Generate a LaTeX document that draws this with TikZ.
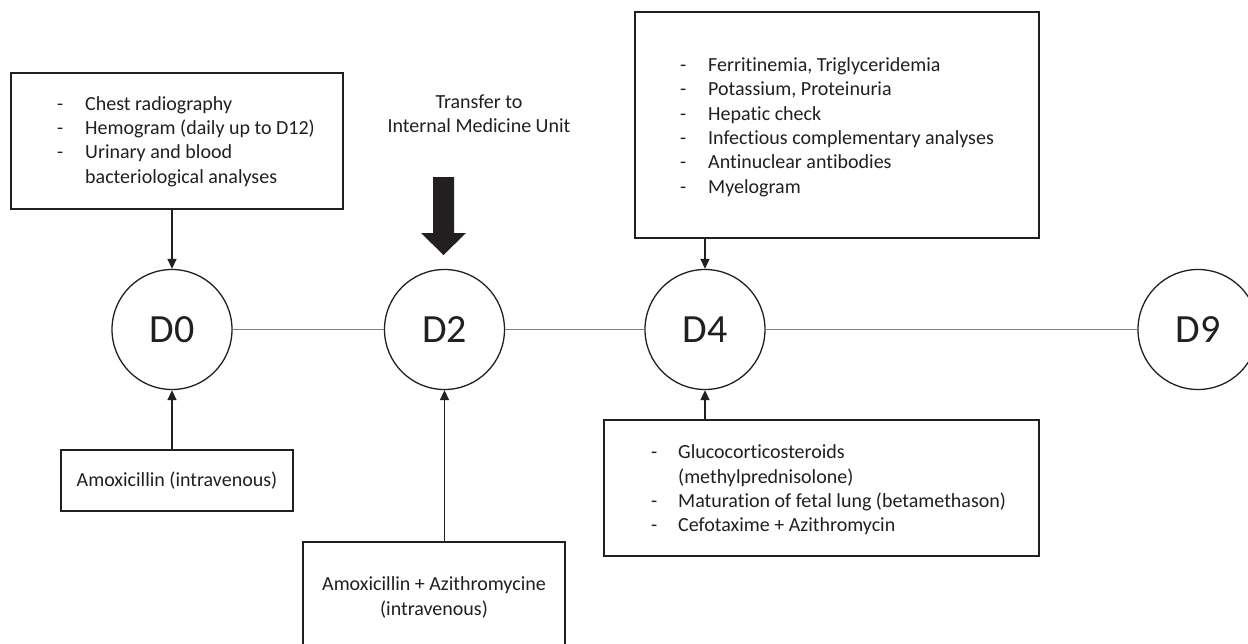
\documentclass[tikz,border=0pt]{standalone}
\usepackage{fontspec}
\setmainfont{Carlito}[RawFeature={-liga;-clig}]
\usetikzlibrary{arrows.meta,calc}
\definecolor{ink}{HTML}{231F20}
\definecolor{tline}{HTML}{808080}
\begin{document}
\begin{tikzpicture}[x=1pt,y=-1pt,
  every node/.style={text=ink},
  day/.style={circle,draw=ink,line width=1.3pt,minimum size=120pt,inner sep=0pt,font=\fontsize{40}{48}\selectfont},
  boxx/.style={draw=ink,line width=1.5pt,inner sep=0pt},
  txt/.style={inner sep=0pt,font=\fontsize{20}{24.4}\selectfont},
  conn/.style={draw=ink,line width=1.4pt,-{Triangle[length=10pt,width=9pt]}},
  tl/.style={draw=tline,line width=1.6pt}]
\clip (0,0) rectangle (1248,643);
\fill[white] (0,0) rectangle (1248,643);
% day circles
\node[day] (c0) at (172,329.5) {D0};
\node[day] (c2) at (444.5,329.5) {D2};
\node[day] (c4) at (705,329.5) {D4};
\node[day] (c9) at (1198,329.5) {D9};
\draw[tl] (c0) -- (c2);
\draw[tl] (c2) -- (c4);
\draw[tl] (c4) -- (c9);
% box 1
\node[boxx,minimum width=332pt,minimum height=136pt] (b1) at (177,141) {};
\node[txt,anchor=west,align=left] (t1) at (57,141.5) {\makebox[28pt][l]{-}Chest radiography\\\makebox[28pt][l]{-}Hemogram (daily up to D12)\\\makebox[28pt][l]{-}Urinary and blood\\\hspace*{28pt}bacteriological analyses};
\draw[conn] (c0 |- b1.south) -- (c0.north);
% amoxicillin
\node[boxx,minimum width=232pt,minimum height=61pt] (b0) at (177,480.5) {};
\node[txt] (t0) at (177,481) {Amoxicillin (intravenous)};
\draw[conn] (c0 |- b0.north) -- (c0.south);
% transfer
\node[txt,align=center] (tr) at (479,113.5) {Transfer to\\Internal Medicine Unit};
\coordinate (ar) at (443.5,177);
\fill[ink] (ar) ++(-10.5,0) -- ++(21,0) -- ++(0,56) -- ++(12,0) -- (443.5,255) -- (421,233) -- ++(12,0) -- cycle;
% box 2
\node[boxx,minimum width=262pt,minimum height=112pt] (b2) at (434,598) {};
\node[txt,align=center] (t2) at (434,597.5) {Amoxicillin + Azithromycine\\(intravenous)};
\draw[conn] (c2 |- b2.north) -- (c2.south);
% big box
\node[boxx,minimum width=404pt,minimum height=226pt] (b4) at (837,125) {};
\node[txt,anchor=west,align=left] (t4) at (680,127) {\makebox[28pt][l]{-}Ferritinemia, Triglyceridemia\\\makebox[28pt][l]{-}Potassium, Proteinuria\\\makebox[28pt][l]{-}Hepatic check\\\makebox[28pt][l]{-}Infectious complementary analyses\\\makebox[28pt][l]{-}Antinuclear antibodies\\\makebox[28pt][l]{-}Myelogram};
\draw[conn] (c4 |- b4.south) -- (c4.north);
% lower box
\node[boxx,minimum width=435pt,minimum height=136pt] (b5) at (821.5,488) {};
\node[txt,anchor=west,align=left] (t5) at (651,490) {\makebox[27pt][l]{-}Glucocorticosteroids\\\hspace*{27pt}(methylprednisolone)\\\makebox[27pt][l]{-}Maturation of fetal lung (betamethason)\\\makebox[27pt][l]{-}Cefotaxime + Azithromycin};
\draw[conn] (c4 |- b5.north) -- (c4.south);
\end{tikzpicture}
\end{document}
